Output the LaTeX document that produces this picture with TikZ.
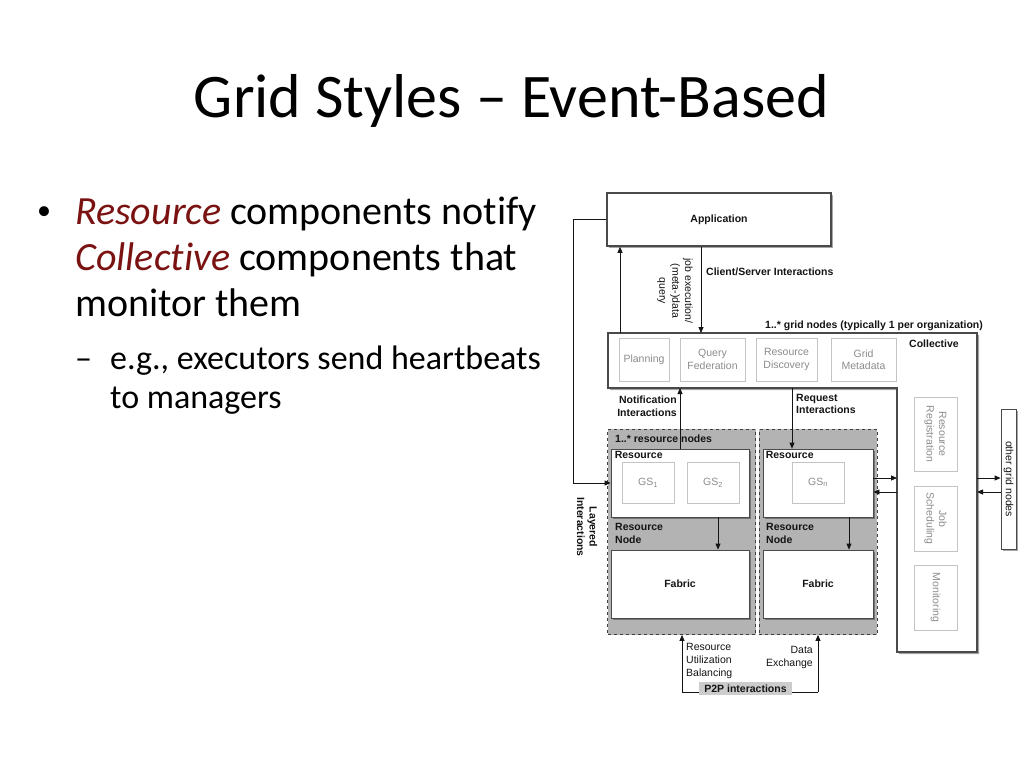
\documentclass[tikz,border=0pt]{standalone}
\usepackage{fontspec}
\setmainfont{Carlito}[Ligatures=NoCommon]
\newfontfamily\dia{Liberation Sans}
\usetikzlibrary{shadows,arrows.meta}
\definecolor{bord}{HTML}{4A4A4A}
\definecolor{ingray}{HTML}{C4C4C4}
\definecolor{intext}{HTML}{8C8C8C}
\definecolor{grpfill}{HTML}{B3B3B3}
\definecolor{p2pfill}{HTML}{CCCCCC}
\definecolor{darkred}{HTML}{7A1212}
\definecolor{ink}{HTML}{141414}
\tikzset{
  shad/.style={drop shadow={shadow xshift=2pt,shadow yshift=-2pt,opacity=0.35,fill=black}},
  lab/.style={font=\dia\bfseries\fontsize{10.5}{12.5}\selectfont, inner sep=0pt, text=ink},
  txt/.style={font=\dia\fontsize{10.5}{12.8}\selectfont, inner sep=0pt, text=ink},
  bigbox/.style={draw=bord, line width=1.6pt, fill=white, inner sep=0pt, shad},
  whitebox/.style={draw=bord, line width=0.8pt, fill=white, inner sep=0pt, shad},
  innerbox/.style={draw=ingray, line width=0.8pt, fill=white, inner sep=0pt, text=intext,
     font=\dia\fontsize{10.5}{12.5}\selectfont, align=center},
  group/.style={draw=black!75, dashed, fill=grpfill, line width=0.8pt, inner sep=0pt},
  arr/.style={-{Triangle[length=6pt,width=5pt]}, line width=0.8pt, draw=ink},
  plain/.style={line width=0.8pt, draw=ink},
  bul/.style={anchor=base west, inner sep=0pt, font=\fontsize{40}{46}\selectfont},
  subbul/.style={anchor=base west, inner sep=0pt, font=\fontsize{34}{40}\selectfont},
}
\begin{document}
\begin{tikzpicture}[x=1pt,y=-1pt]
\useasboundingbox[fill=white] (0,0) rectangle (1024,768);

% ---- title and bullets
\node[anchor=base, inner sep=0pt, font=\fontsize{62}{70}\selectfont] (title) at (511.5,117) {Grid Styles – Event-Based};
\node[anchor=base west, inner sep=0pt, font=\fontsize{28}{30}\selectfont] (dot) at (37,219) {•};
\node[bul] (b1) at (75,224) {\textcolor{darkred}{\itshape Resource} components notify};
\node[bul] (b2) at (75,270) {\textcolor{darkred}{\itshape Collective} components that};
\node[bul] (b3) at (75,316) {monitor them};
\node[subbul] (dash) at (75,369) {–};
\node[subbul] (s1) at (110,369) {e.g., executors send heartbeats};
\node[subbul] (s2) at (110,408) {to managers};

% ---- Application
\node[bigbox, minimum width=224pt, minimum height=53pt, lab] (app) at (719,219.5) {Application};

% ---- Collective (L shape)
\coordinate (colTL) at (608,333);
\coordinate (colR) at (977,333);
\coordinate (colB) at (608,388);
\coordinate (colV) at (897,388);
\path[bigbox] (colTL) -- (colR) -- (977,652) -- (897,652) -- (colV) -- (colB) -- cycle;
\node[lab, anchor=north west] (collab) at (909,339.5) {Collective};
\node[innerbox, minimum width=50pt, minimum height=43pt] (plan) at (644,359.5) {Planning};
\node[innerbox, minimum width=65pt, minimum height=43pt] (qf) at (712.5,359.5) {Query\\Federation};
\node[innerbox, minimum width=61pt, minimum height=43pt] (rd) at (786.5,359.5) {Resource\\Discovery};
\node[innerbox, minimum width=65pt, minimum height=43pt] (gm) at (863.5,359.5) {Grid\\Metadata};
\node[innerbox, rotate=-90, minimum width=74pt, minimum height=43pt] (rr) at (935.5,434) {Resource\\Registration};
\node[innerbox, rotate=-90, minimum width=65pt, minimum height=43pt] (js) at (935.5,518.5) {Job\\Scheduling};
\node[innerbox, rotate=-90, minimum width=65pt, minimum height=43pt] (mon) at (935.5,597.5) {Monitoring};

% ---- other grid nodes
\node[whitebox, txt, rotate=-90, minimum width=140pt, minimum height=15pt] (other) at (1008.5,479) {other grid nodes};

% ---- resource node groups
\node[group, minimum width=148pt, minimum height=205.5pt] (grpL) at (681.5,531.75) {};
\node[group, minimum width=118pt, minimum height=205.5pt] (grpR) at (818,531.75) {};
\node[lab, anchor=west] (rnl) at (615,439) {1..* resource nodes};

\node[whitebox, minimum width=138pt, minimum height=68pt] (resL) at (680,483) {};
\node[whitebox, minimum width=110pt, minimum height=68pt] (resR) at (818,483) {};
\node[lab, anchor=north west] (resLl) at ([shift={(4,2.5)}]resL.north west) {Resource};
\node[lab, anchor=north west] (resRl) at ([shift={(3,2.5)}]resR.north west) {Resource};
\node[innerbox, minimum width=52pt, minimum height=41pt] (gs1) at (648,483) {GS\textsubscript{1}};
\node[innerbox, minimum width=52pt, minimum height=41pt] (gs2) at (713,483) {GS\textsubscript{2}};
\node[innerbox, minimum width=52pt, minimum height=41pt] (gsn) at (818,482.5) {GS\textsubscript{n}};

\node[lab, anchor=north west, align=left] (rnL) at (615,523.5) {Resource\\Node};
\node[lab, anchor=north west, align=left] (rnR) at (766,523.5) {Resource\\Node};

\node[whitebox, lab, minimum width=138pt, minimum height=68pt] (fabL) at (680,584) {Fabric};
\node[whitebox, lab, minimum width=110pt, minimum height=68pt] (fabR) at (818,584) {Fabric};

% ---- arrows application <-> collective
\coordinate (cup) at (620,333);
\coordinate (cdown) at (701,333);
\draw[arr] (cup) -- (cup |- app.south);
\draw[arr] (app.south -| cdown) -- (cdown);
\node[txt, rotate=-90, align=center] (jobl) at (675,291) {job execution/\\(meta-)data\\query};
\node[lab, anchor=west] (csl) at (706,272) {Client/Server Interactions};
\node[lab, anchor=west] (gnl) at (765,326) {1..* grid nodes (typically 1 per organization)};

% ---- layered
\draw[arr] (app.west) -- ++(-33,0) |- (resL.west);
\node[lab, rotate=-90, align=center] (layl) at (587,527) {Layered\\Interactions};

% ---- notification / request
\draw[arr] (resL.north) -- (resL.north |- colB);
\coordinate (req) at (792,388);
\draw[arr] (req) -- (req |- resR.north);
\node[lab, anchor=north east, align=right] (notl) at (677,396) {Notification\\Interactions};
\node[lab, anchor=north west, align=left] (reql) at (796,394) {Request\\Interactions};

% ---- resource -> fabric
\draw[arr] ([xshift=38pt]resL.south) -- ([xshift=38pt]fabL.north);
\draw[arr] ([xshift=31pt]resR.south) -- ([xshift=31pt]fabR.north);

% ---- resource <-> collective, collective <-> other
\draw[arr] ([yshift=5pt]resR.east) -- ([yshift=5pt]resR.east -| colV);
\draw[arr] ([yshift=-9pt]resR.east -| colV) -- ([yshift=-9pt]resR.east);
\draw[arr] ([yshift=5pt]resR.east -| colR) -- ([yshift=5pt]resR.east -| other.south);
\draw[arr] ([yshift=-9pt]resR.east -| other.south) -- ([yshift=-9pt]resR.east -| colR);

% ---- P2P
\coordinate (pl) at (682,692);
\coordinate (pr) at (818,692);
\draw[plain] (pl) -- (pr);
\draw[arr] (pl) -- (pl |- grpL.south);
\draw[arr] (pr) -- (pr |- grpR.south);
\node[lab, fill=p2pfill, minimum width=93pt, minimum height=13pt] (p2p) at (745.5,688.5) {P2P interactions};
\node[txt, anchor=north west, align=left] (rub) at (686,643.5) {Resource\\Utilization\\Balancing};
\node[txt, anchor=north east, align=right] (dex) at (813,646.5) {Data\\Exchange};
\end{tikzpicture}
\end{document}
